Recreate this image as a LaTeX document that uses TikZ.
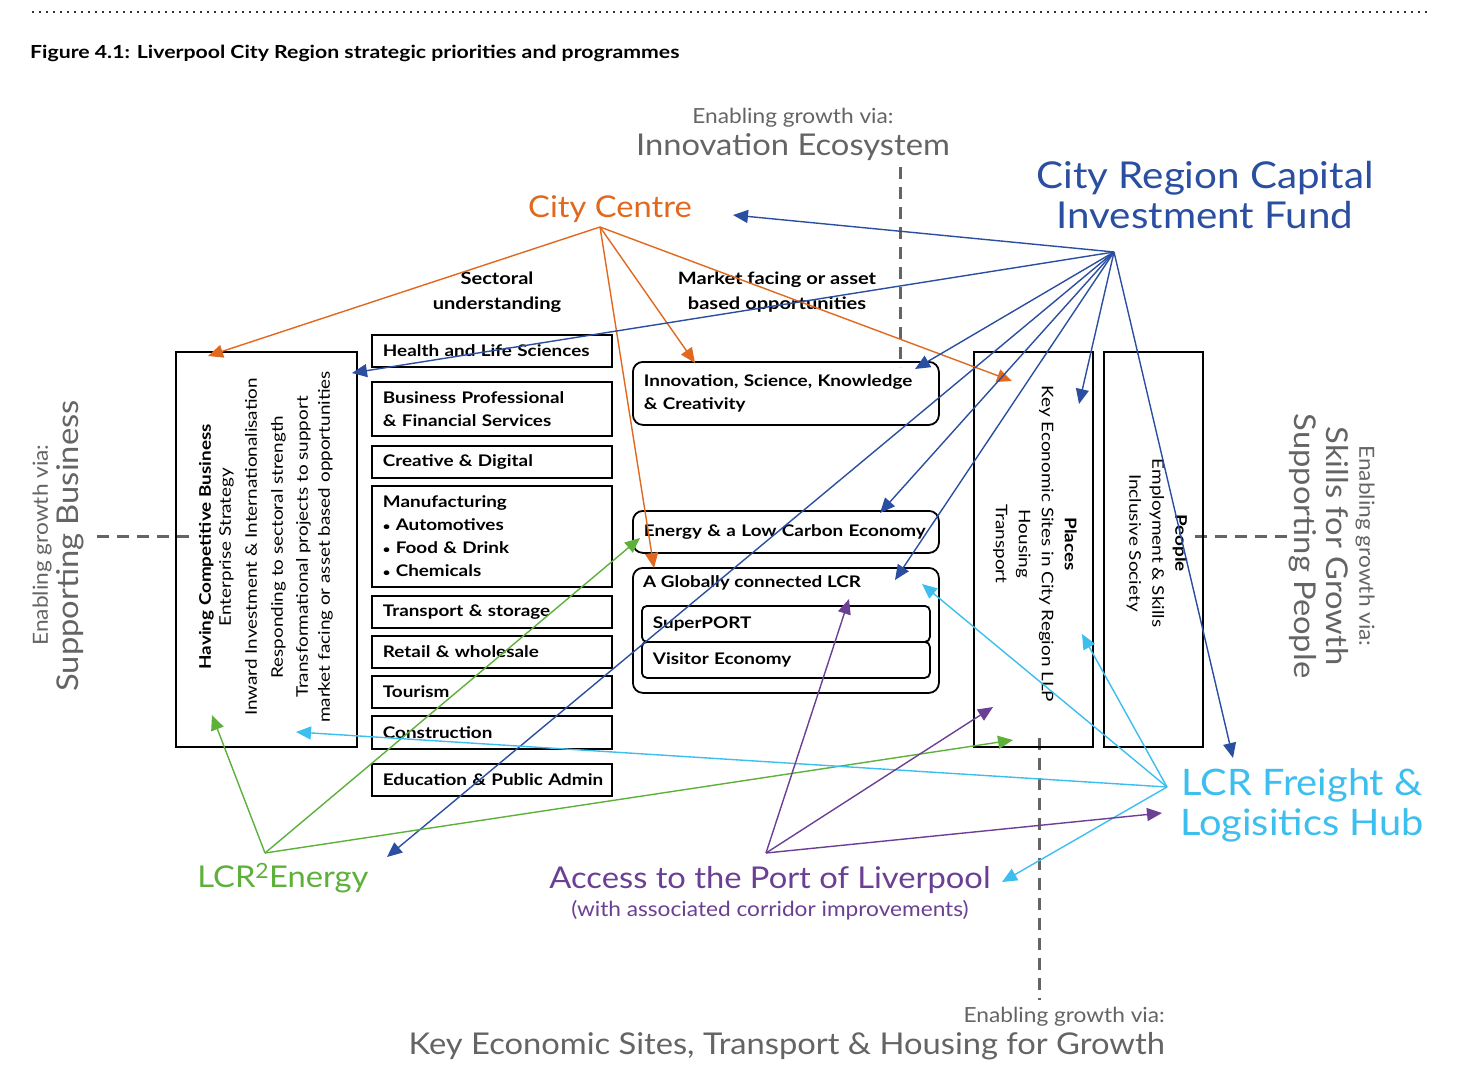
\documentclass[tikz,border=0pt]{standalone}
\usepackage{fontspec}
\setmainfont{Lato}[FakeStretch=1.09]
\newfontfamily\smallf{Lato}[FakeStretch=1.18]
\usetikzlibrary{arrows.meta}
\definecolor{ccor}{HTML}{E0681F}
\definecolor{crblue}{HTML}{2B4FA0}
\definecolor{egreen}{HTML}{5DB03A}
\definecolor{fblue}{HTML}{3CBEEE}
\definecolor{ppurple}{HTML}{6B3F93}
\definecolor{egrey}{HTML}{646464}
\begin{document}
\begin{tikzpicture}[x=1pt,y=-1pt,
  bx/.style={draw, line width=1.8pt},
  sbox/.style={bx, anchor=north west, minimum width=240pt, text width=218pt, inner xsep=11pt, inner ysep=0pt, align=left, font=\smallf\bfseries\fontsize{16}{23}\selectfont},
  rbox/.style={bx, rounded corners=10pt, anchor=north west, minimum width=306pt, text width=284pt, inner xsep=11pt, inner ysep=0pt, align=left, font=\smallf\bfseries\fontsize{16}{23}\selectfont},
  ibox/.style={bx, rounded corners=5pt, anchor=north west, minimum width=288pt, text width=266pt, minimum height=36pt, inner xsep=11pt, inner ysep=0pt, align=left, font=\smallf\bfseries\fontsize{16}{23}\selectfont},
  gsmall/.style={text=egrey, font=\fontsize{20.8}{24}\selectfont, inner sep=0pt},
  gbig/.style={text=egrey, font=\fontsize{30}{34}\selectfont, inner sep=0pt},
  gdash/.style={draw=egrey, line width=3pt, dash pattern=on 12pt off 8pt},
  arr/.style={-{Triangle[length=15pt,width=13pt]}, line width=1.4pt},
  hdr/.style={font=\smallf\bfseries\fontsize{17}{25}\selectfont, align=center, inner sep=0pt},
  vtext/.style={align=center, inner sep=0pt, font=\smallf\fontsize{16}{23}\selectfont}
]
\useasboundingbox (0,0) rectangle (1458,1068);

% top dotted rule
\coordinate (dl) at (32,12);
\coordinate (dr) at (1428,12);
\draw[line width=2pt, dash pattern=on 2pt off 5pt, draw=black!80] (dl) -- (dr);

\node[anchor=base west, inner sep=0pt, font=\smallf\bfseries\fontsize{18}{20}\selectfont] (title) at (30,58) {Figure 4.1: Liverpool City Region strategic priorities and programmes};

% headings
\node[gsmall] (eg1) at (793,118) {Enabling growth via:};
\node[gbig] (ie) at (793,147) {Innovation Ecosystem};
\node[align=center, text=crblue, font=\fontsize{37}{40}\selectfont, inner sep=0pt] (crcif) at (1205,195) {City Region Capital\\Investment Fund};
\node[text=ccor, font=\fontsize{30}{34}\selectfont, inner sep=0pt] (ccn) at (610,209) {City Centre};
\node[hdr] (sect) at (497,292) {Sectoral\\understanding};
\node[hdr] (mkt) at (777,292) {Market facing or asset\\based opportunities};

% dashed guide lines
\coordinate (td1) at (900,167);
\coordinate (td2) at (900,367);
\draw[gdash] (td1) -- (td2);
\coordinate (ld1) at (97,536);
\coordinate (ld2) at (189,536);
\draw[gdash] (ld1) -- (ld2);
\coordinate (rd1) at (1195,536);
\coordinate (rd2) at (1288,536);
\draw[gdash] (rd1) -- (rd2);
\coordinate (bd1) at (1039,738);
\coordinate (bd2) at (1039,1000);
\draw[gdash] (bd1) -- (bd2);

% left big box
\node[bx, anchor=north west, minimum width=181pt, minimum height=395pt, inner sep=0pt] (lbox) at (175,351) {};
\node[vtext, rotate=90] (lbt) at (266,547) {{\bfseries Having Competitive Business}\\[-3pt]Enterprise Strategy\\[3pt]Inward Investment \& Internationalisation\\[3pt]Responding to sectoral strength\\[2pt]Transformational projects to support\\[-1pt]market facing or asset based opportunities};

% sector boxes
\node[sbox, minimum height=32pt] (hls) at (371,334) {\mbox{Health and Life Sciences}};
\node[sbox, minimum height=54pt] (bpf) at (371,381) {Business Professional\\\& Financial Services};
\node[sbox, minimum height=32pt] (crd) at (371,445) {Creative \& Digital};
\node[sbox, minimum height=101pt] (man) at (371,485) {Manufacturing\\{\fontsize{11}{12}\selectfont\textbullet}\ Automotives\\{\fontsize{11}{12}\selectfont\textbullet}\ Food \& Drink\\{\fontsize{11}{12}\selectfont\textbullet}\ Chemicals};
\node[sbox, minimum height=32pt] (trs) at (371,595) {Transport \& storage};
\node[sbox, minimum height=32pt] (rtw) at (371,635) {Retail \& wholesale};
\node[sbox, minimum height=32pt] (tou) at (371,675) {Tourism};
\node[sbox, minimum height=33pt] (con) at (371,715) {Construction};
\node[sbox, minimum height=32pt] (edu) at (371,763) {\mbox{Education \& Public Admin}};

% rounded boxes
\node[rbox, minimum height=63pt] (isk) at (632,361) {Innovation, Science, Knowledge\\\& Creativity};
\node[rbox, minimum height=42pt] (elc) at (632,510) {\mbox{Energy \& a Low Carbon Economy}};
\node[rbox, minimum height=125pt] (glcr) at (632,567) {};
\node[anchor=west, inner sep=0pt, font=\smallf\bfseries\fontsize{16}{23}\selectfont] (glcrt) at (643,583) {A Globally connected LCR};
\node[ibox] (sp) at (641,605) {SuperPORT};
\node[ibox] (ve) at (641,641) {Visitor Economy};

% places & people
\node[bx, anchor=north west, minimum width=119pt, minimum height=395pt, inner sep=0pt] (plbox) at (973,351) {};
\node[vtext, rotate=-90] (plt) at (1035,544) {{\bfseries Places}\\Key Economic Sites in City Region LLP\\Housing\\Transport};
\node[bx, anchor=north west, minimum width=99pt, minimum height=395pt, inner sep=0pt] (pebox) at (1103,351) {};
\node[vtext, rotate=-90] (pet) at (1157,543) {{\bfseries People}\\Employment \& Skills\\Inclusive Society};

% side headings
\node[gsmall, rotate=90] (egl) at (42,545) {Enabling growth via:};
\node[gbig, rotate=90] (sb) at (70,546) {Supporting Business};
\node[gsmall, rotate=-90] (egr) at (1365,546) {Enabling growth via:};
\node[gbig, rotate=-90] (sg) at (1337,546) {Skills for Growth};
\node[gbig, rotate=-90] (spp) at (1303,546) {Supporting People};
\node[gsmall, anchor=east] (egb) at (1165,1017) {Enabling growth via:};
\node[gbig, anchor=east] (kes) at (1165,1046) {Key Economic Sites, Transport \& Housing for Growth};

% programme labels
\node[text=egreen, font=\fontsize{30}{34}\selectfont, inner sep=0pt] (lcre) at (283,878) {LCR\textsuperscript{2}Energy};
\node[text=ppurple, font=\fontsize{30}{34}\selectfont, inner sep=0pt] (port) at (770,880) {Access to the Port of Liverpool};
\node[text=ppurple, font=\fontsize{20.8}{24}\selectfont, inner sep=0pt] (portsub) at (770,910) {(with associated corridor improvements)};
\node[text=fblue, align=center, font=\fontsize{36.5}{40}\selectfont, inner sep=0pt] (frh) at (1302,805) {LCR Freight \&\\Logisitics Hub};

% hubs
\coordinate (ccH) at (600,227);
\coordinate (cfH) at (1114,252);
\coordinate (enH) at (265,853);
\coordinate (ptH) at (766,853);
\coordinate (fhH) at (1167,787);

% targets
\coordinate (oA) at (208,356);
\coordinate (oB) at (695,363);
\coordinate (oC) at (654,568);
\coordinate (oD) at (1012,381);
\coordinate (bA) at (733,215);
\coordinate (bB) at (352,373);
\coordinate (bC) at (915,369);
\coordinate (bD) at (880,513);
\coordinate (bE) at (895,580);
\coordinate (bF) at (1079,404);
\coordinate (bG) at (1233,758);
\coordinate (bH) at (387,857);
\coordinate (gA) at (212,715);
\coordinate (gB) at (640,538);
\coordinate (gC) at (1013,740);
\coordinate (lA) at (296,732);
\coordinate (lB) at (922,584);
\coordinate (lC) at (1082,634);
\coordinate (lD) at (1002,882);
\coordinate (pA) at (849,599);
\coordinate (pB) at (993,707);
\coordinate (pC) at (1162,813);

% arrows
\foreach \t in {oA,oB,oC,oD} \draw[arr, ccor] (ccH) -- (\t);
\foreach \t in {bA,bB,bC,bD,bE,bF,bG,bH} \draw[arr, crblue] (cfH) -- (\t);
\foreach \t in {gA,gB,gC} \draw[arr, egreen] (enH) -- (\t);
\foreach \t in {lA,lB,lC,lD} \draw[arr, fblue] (fhH) -- (\t);
\foreach \t in {pA,pB,pC} \draw[arr, ppurple] (ptH) -- (\t);
\end{tikzpicture}
\end{document}
